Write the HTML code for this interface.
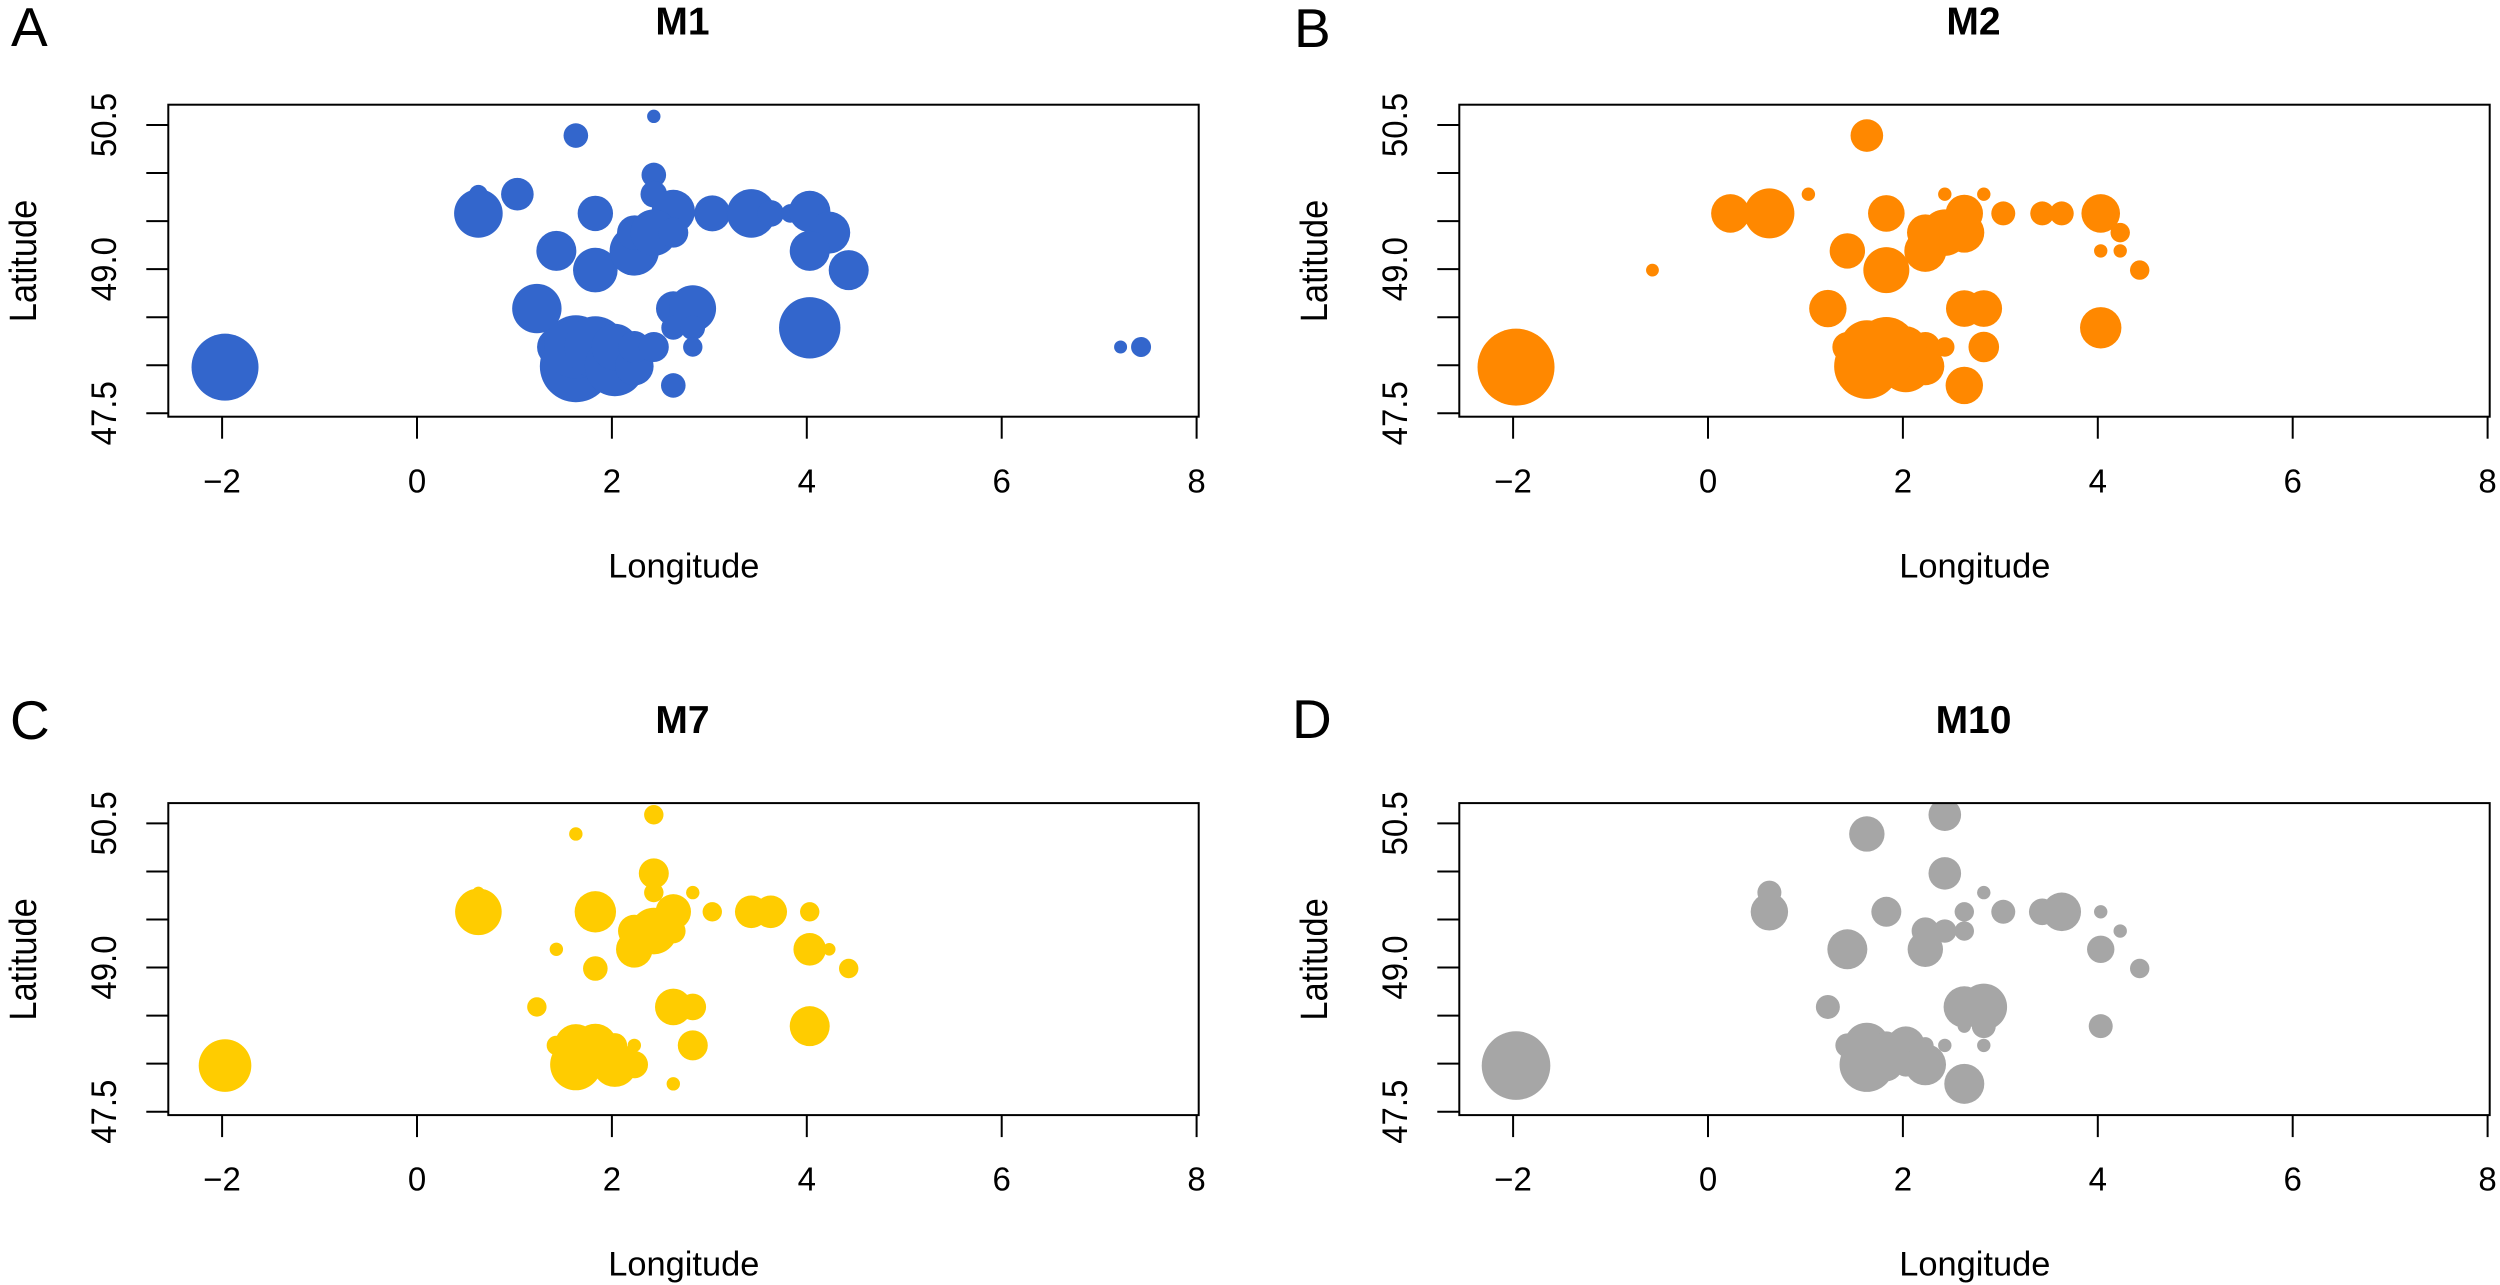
<!DOCTYPE html>
<html lang="en">
<head>
<meta charset="utf-8">
<title>Bubble maps M1, M2, M7, M10</title>
<style>
  html, body { margin: 0; padding: 0; background: #ffffff; }
  svg { display: block; }
  text { font-family: "Liberation Sans", Arial, sans-serif; fill: #000000; }
</style>
</head>
<body>
<svg id="chart" xmlns="http://www.w3.org/2000/svg" width="2500" height="1285" viewBox="0 0 2500 1285"></svg>
<script>
const xTicks = [-2, 0, 2, 4, 6, 8];
const yTicks = [47.5, 48, 48.5, 49, 49.5, 50, 50.5];
const yLabelled = [47.5, 49, 50.5];

const m1Lon = [2.43, 1.63, 2.43, 2.43, 0.63, 1.03, 0.63, 1.83, 2.63, 3.03,
  3.43, 3.63, 3.83, 4.03, 4.23, 4.03, 4.43, 1.43, 1.83, 2.23,
  2.23, 2.43, 2.63, 1.23, 2.63, 2.83, 2.63, 2.83, 4.03, 2.83,
  2.63, 1.43, 1.63, 1.63, 1.83, 2.03, 2.03, 2.23, 2.23, 2.43,
  -1.97, 7.22, 7.43];
const m1Lat = [50.59, 50.39, 49.98, 49.78, 49.78, 49.78, 49.58, 49.58, 49.60, 49.58,
  49.58, 49.58, 49.58, 49.60, 49.38, 49.19, 48.99, 49.19, 48.99, 49.19,
  49.38, 49.38, 49.38, 48.59, 48.59, 48.59, 48.39, 48.39, 48.39, 48.19,
  47.79, 48.19, 47.99, 48.19, 48.19, 47.99, 48.19, 47.99, 48.19, 48.19,
  47.98, 48.19, 48.19];
const m1Size = [6.7, 12.3, 12.3, 13.3, 9.3, 16.3, 24.3, 17.7, 21.7, 18,
  24.3, 13.3, 9.3, 20.7, 21, 20, 20, 20, 22.3, 24.7,
  17.3, 23.3, 15, 24.7, 17.3, 23.3, 12, 12.3, 30.7, 9.7,
  12.3, 19.3, 36, 31.7, 30.7, 30, 23.3, 19.3, 16, 15,
  33.5, 6.5, 10];

const m2Lon = [1.63, 0.23, 0.63, 1.03, 2.43, 2.83, 1.83, 2.63, 3.03, 3.43,
  3.63, 4.03, 4.23, 4.03, 4.23, 4.43, 1.43, 1.83, 2.23, 2.23,
  2.43, 2.63, 1.23, 2.63, 2.83, 2.83, 4.03, 2.63, 2.43, 2.23,
  2.23, 2.03, 2.03, 1.83, 1.63, 1.63, 1.43, -1.97, -0.57];
const m2Lat = [50.39, 49.58, 49.58, 49.78, 49.78, 49.78, 49.58, 49.58, 49.58, 49.58,
  49.58, 49.58, 49.38, 49.19, 49.19, 48.99, 49.19, 48.99, 49.19, 49.38,
  49.38, 49.38, 48.59, 48.59, 48.59, 48.19, 48.39, 47.79, 48.19, 48.19,
  47.99, 47.99, 48.19, 48.19, 48.19, 47.99, 48.19, 47.98, 48.99];
const m2Size = [16.3, 19.3, 25, 6.7, 6.7, 6.7, 18.3, 18.7, 12, 12,
  12, 19.3, 9.7, 6.7, 6.7, 9.7, 17.7, 23, 21, 18.3,
  23.3, 20, 18.7, 18.3, 18.3, 15.3, 20.7, 18.7, 9.7, 15,
  19, 26, 20.7, 30, 26.7, 32.7, 15, 38.5, 6.4];

const m7Lon = [2.43, 1.63, 2.43, 2.43, 0.63, 2.83, 0.63, 1.83, 2.63, 3.03,
  3.43, 3.63, 4.03, 2.23, 2.43, 2.63, 1.43, 2.23, 4.03, 4.23,
  1.83, 4.43, 1.23, 2.63, 2.83, 4.03, 2.83, 2.63, 2.23, 2.23,
  2.03, 2.03, 1.83, 1.63, 1.63, 1.43, -1.97];
const m7Lat = [50.59, 50.39, 49.98, 49.78, 49.78, 49.78, 49.58, 49.58, 49.58, 49.58,
  49.58, 49.58, 49.58, 49.38, 49.38, 49.38, 49.19, 49.19, 49.19, 49.19,
  48.99, 48.99, 48.59, 48.59, 48.59, 48.39, 48.19, 47.79, 48.19, 47.99,
  47.99, 48.19, 48.19, 48.19, 47.99, 48.19, 47.98];
const m7Size = [9.7, 6.7, 15, 9.7, 6, 6.7, 23.3, 20.7, 17.7, 9.7,
  16.3, 16.3, 9.7, 16.3, 23.3, 12.3, 6.7, 18.3, 16.3, 6.3,
  12.3, 9.7, 9.7, 18.3, 13.3, 20, 15, 6.7, 6.7, 13.7,
  22.3, 12.3, 21.7, 21.3, 25.7, 9.7, 26.3];

const m10Lon = [1.63, 2.43, 2.43, 0.63, 2.83, 0.63, 1.83, 2.63, 3.03, 3.43,
  3.63, 4.03, 2.23, 2.43, 2.63, 4.23, 1.43, 2.23, 4.03, 4.43,
  1.23, 2.63, 2.83, 2.63, 2.83, 4.03, 2.43, 2.83, 2.63, 1.63,
  1.43, 1.63, 1.83, 1.83, 2.03, 2.03, 2.23, 2.23, -1.97];
const m10Lat = [50.39, 50.59, 49.98, 49.78, 49.78, 49.58, 49.58, 49.58, 49.58, 49.58,
  49.58, 49.58, 49.38, 49.38, 49.38, 49.38, 49.19, 49.19, 49.19, 48.99,
  48.59, 48.59, 48.59, 48.39, 48.39, 48.39, 48.19, 48.19, 47.79, 48.19,
  48.19, 47.99, 48.19, 47.99, 48.19, 47.99, 47.99, 48.19, 47.98];
const m10Size = [17.7, 16.3, 16.3, 12, 6.7, 18.7, 15, 9.7, 12, 13.3,
  19.3, 6.7, 13.7, 11.7, 9.7, 6.7, 20, 17.7, 13.7, 9.7,
  12, 20.7, 23.3, 6.7, 12, 12, 6.7, 6.7, 20, 22.7,
  12, 27.3, 14, 16.7, 19, 12, 20.7, 8.3, 34.3];

const panels = [
  { id: 'm1', title: 'M1', letter: 'A', lon: m1Lon, lat: m1Lat, size: m1Size, color: '#3366CC', dx: 0, dy: 0, lx: 11, ly: 46 },
  { id: 'm2', title: 'M2', letter: 'B', lon: m2Lon, lat: m2Lat, size: m2Size, color: '#FF8800', dx: 1291, dy: 0, lx: 1294, ly: 47 },
  { id: 'm7', title: 'M7', letter: 'C', lon: m7Lon, lat: m7Lat, size: m7Size, color: '#FFCC00', dx: 0, dy: 698.4, lx: 10, ly: 739 },
  { id: 'm10', title: 'M10', letter: 'D', lon: m10Lon, lat: m10Lat, size: m10Size, color: '#A6A6A6', dx: 1291, dy: 698.4, lx: 1292, ly: 738 }
];

const svgNS = 'http://www.w3.org/2000/svg';
const root = document.getElementById('chart');

function make(parent, tag, attrs, content) {
  const el = document.createElementNS(svgNS, tag);
  for (const k in attrs) el.setAttribute(k, attrs[k]);
  if (content !== undefined) el.textContent = content;
  parent.appendChild(el);
  return el;
}

function formatTick(v) {
  return v < 0 ? '\u2212' + Math.abs(v) : String(v);
}

panels.forEach(function (p) {
  const xScale = function (lon) { return 417 + p.dx + lon * 97.45; };
  const yScale = function (lat) { return 125 + p.dy + (50.5 - lat) * 96.1; };
  const radius = function (v) { return v; };
  const left = 168.3 + p.dx, right = 1198.7 + p.dx, top = 104.7 + p.dy, bottom = 416.7 + p.dy;

  const g = make(root, 'g', {});
  
  

  const clip = make(g, 'clipPath', { id: 'clip-' + p.id });
  make(clip, 'rect', { x: left, y: top, width: right - left, height: bottom - top });

  const letter = make(g, 'text', { x: p.lx, y: p.ly, 'font-size': 55 }, p.letter);
  
  

  const title = make(g, 'text', { x: 682.5 + p.dx, y: 34.7 + p.dy, 'font-size': 39, 'font-weight': 'bold', 'text-anchor': 'middle' }, p.title);
  
  

  const points = make(g, 'g', { 'clip-path': 'url(#clip-' + p.id + ')', fill: p.color });
  
  
  p.lon.forEach(function (lon, i) {
    const c = make(points, 'circle', { cx: xScale(lon), cy: yScale(p.lat[i]), r: radius(p.size[i]) });
    
    
  });

  const box = make(g, 'rect', { x: left, y: top, width: right - left, height: bottom - top, fill: 'none', stroke: '#000', 'stroke-width': 2 });
  
  

  xTicks.forEach(function (t) {
    const x = xScale(t);
    const tick = make(g, 'line', { x1: x, x2: x, y1: bottom, y2: bottom + 22, stroke: '#000', 'stroke-width': 2 });
    
    
    const lab = make(g, 'text', { x: x, y: 492.3 + p.dy, 'font-size': 33, 'text-anchor': 'middle' }, formatTick(t));
    
    
  });

  yTicks.forEach(function (t) {
    const y = yScale(t);
    const tick = make(g, 'line', { x1: left - 22, x2: left, y1: y, y2: y, stroke: '#000', 'stroke-width': 2 });
    
    
    if (yLabelled.indexOf(t) >= 0) {
      const bx = 116.2 + p.dx;
      const lab = make(g, 'text', { x: 0, y: 0, 'font-size': 33, 'text-anchor': 'middle', transform: 'translate(' + bx + ' ' + y + ') rotate(-90) scale(1 1.07)' }, t.toFixed(1));
      
      
    }
  });

  const xTitle = make(g, 'text', { x: 683.8 + p.dx, y: 577.3 + p.dy, 'font-size': 34.4, 'text-anchor': 'middle' }, 'Longitude');
  
  

  const ty = 261 + p.dy, tx = 36 + p.dx;
  const yTitle = make(g, 'text', { x: 0, y: 0, 'font-size': 34.4, 'text-anchor': 'middle', transform: 'translate(' + tx + ' ' + ty + ') rotate(-90) scale(1 1.1)' }, 'Latitude');
  
  
});
</script>
</body>
</html>
